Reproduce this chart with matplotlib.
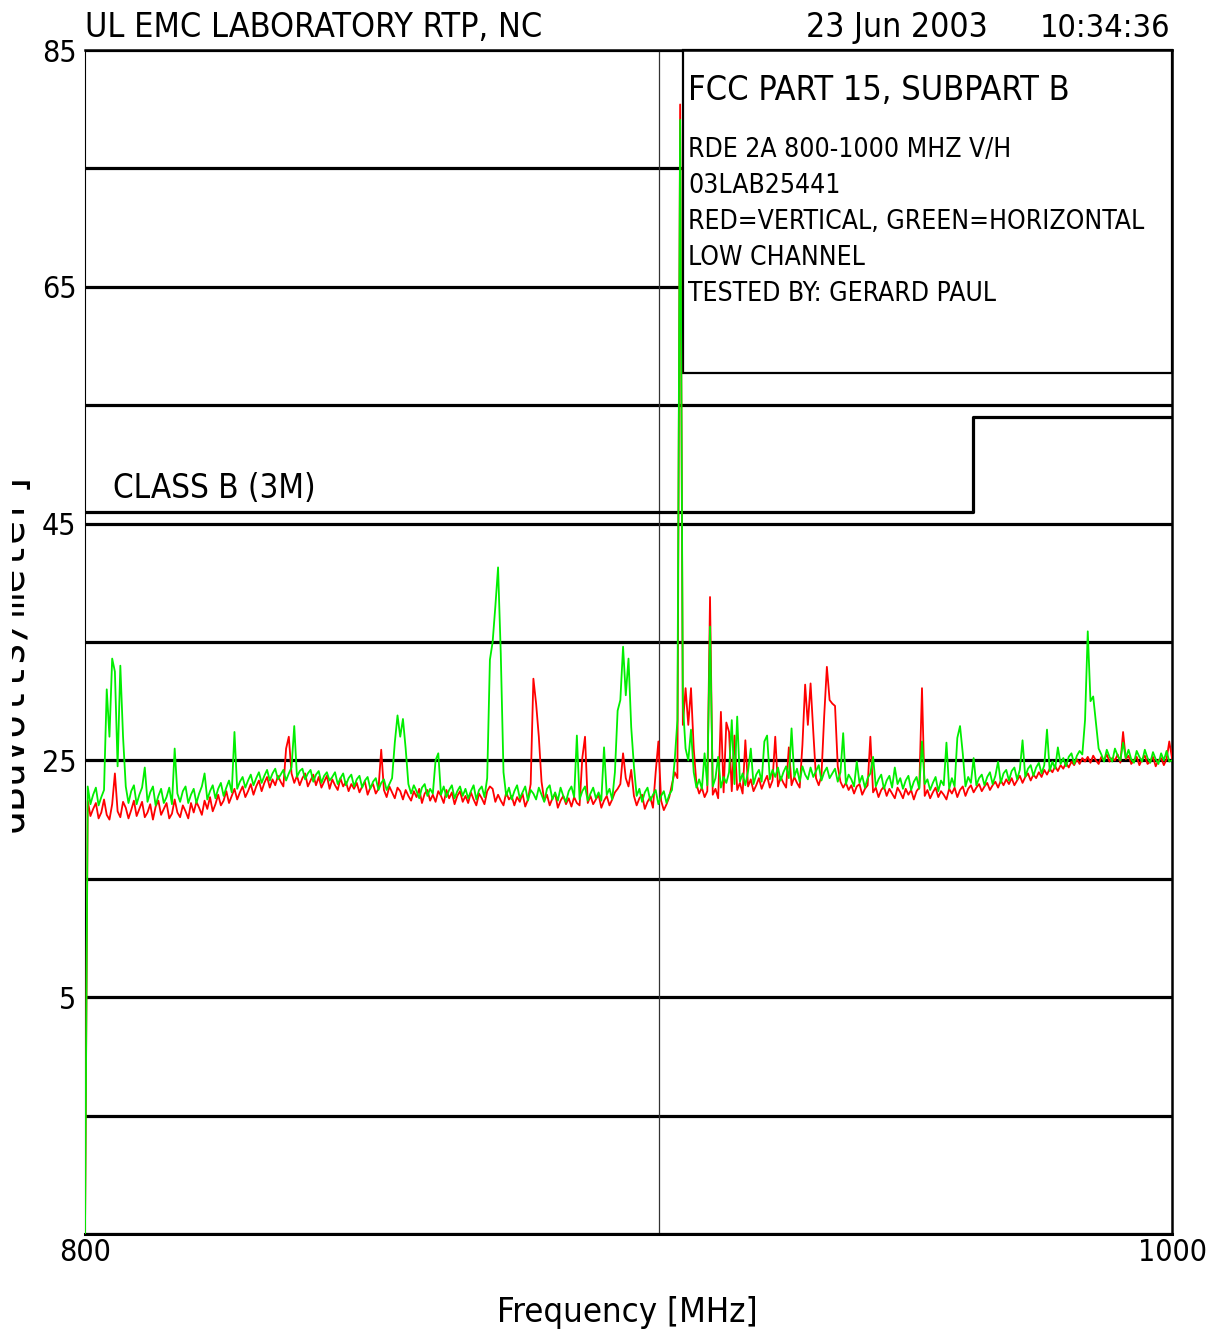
import matplotlib
matplotlib.use("Agg")
import matplotlib.pyplot as plt
import numpy as np
from matplotlib import font_manager as fm
from matplotlib.patches import Rectangle
from matplotlib.transforms import Bbox

W, H, DPI = 1214, 1338, 100

# ---- measurement sweep: 800-1000 MHz, 0.5 MHz bins (dBuV/m) ----
freq_start_mhz = 800.0
freq_step_mhz = 0.5

vertical_dbuv = [
    # 800-809.5
    -15.0, 21.6, 20.3, 20.9, 21.4, 20.1, 20.6, 21.7, 20.4, 20.0, 21.3, 23.9, 20.7, 20.2, 21.5, 21.0, 20.1, 20.8, 21.6, 20.3,
    # 810
    20.9, 21.5, 20.2, 20.6, 21.3, 20.0, 21.1, 21.6, 20.4, 20.9, 21.4, 20.1, 20.5, 21.7, 20.6, 20.2, 21.2, 20.7, 20.1, 21.4,
    # 820
    20.6, 21.5, 21.0, 20.4, 21.6, 20.9, 21.9, 20.7, 21.3, 22.1, 21.2, 21.6, 22.4, 21.4, 22.0, 22.6, 21.7, 22.3, 22.8, 21.9,
    # 830
    22.4, 23.0, 22.1, 22.8, 23.3, 22.4, 23.1, 23.6, 22.7, 23.4, 22.9, 23.7, 23.2, 22.8, 26.0, 27.0, 23.9, 23.1, 23.7, 22.9,
    # 840
    23.5, 23.9, 22.8, 23.3, 23.8, 22.9, 23.6, 22.7, 23.2, 23.7, 22.6, 23.4, 22.9, 22.5, 23.5, 22.8, 23.2, 22.4, 23.0, 22.6,
    # 850
    23.1, 22.3, 22.8, 23.2, 22.1, 22.7, 23.0, 22.2, 22.6, 25.9, 22.5, 21.9, 22.8, 22.3, 21.8, 22.7, 22.4, 21.7, 22.5, 22.0,
    # 860
    21.6, 22.4, 21.9, 22.6, 21.4, 22.2, 22.5, 21.6, 22.1, 21.5, 22.4, 22.0, 21.4, 22.5, 21.8, 22.3, 21.3, 22.0, 22.4, 21.5,
    # 870
    22.0, 21.4, 22.3, 21.7, 21.2, 22.2, 21.8, 21.3, 22.4, 22.8, 22.6, 21.5, 22.1, 21.6, 21.2, 22.3, 21.7, 22.0, 21.2, 21.9,
    # 880
    21.5, 22.2, 21.1, 21.7, 23.0, 31.9, 29.8, 27.0, 23.2, 21.6, 22.1, 21.2, 21.8, 22.2, 21.0, 21.6, 22.0, 21.3, 21.8, 21.1,
    # 890
    21.9, 21.4, 21.2, 25.2, 27.0, 21.4, 22.0, 21.3, 21.7, 22.1, 21.0, 21.6, 22.0, 21.2, 21.7, 22.3, 22.6, 23.0, 25.6, 23.5,
    # 900
    22.8, 24.2, 22.0, 21.2, 21.8, 22.1, 20.9, 21.5, 21.9, 21.0, 24.0, 26.6, 21.6, 20.8, 21.3, 21.9, 23.0, 24.0, 23.5, 80.4,
    # 910
    28.0, 31.1, 28.0, 31.1, 26.0, 23.0, 22.2, 22.7, 21.9, 22.4, 38.8, 22.1, 22.6, 21.8, 29.1, 22.3, 28.2, 27.4, 22.4, 27.1,
    # 920
    22.5, 23.1, 22.2, 26.7, 22.8, 23.4, 22.4, 22.9, 23.5, 22.6, 23.2, 23.7, 22.7, 23.3, 27.0, 22.8, 23.6, 23.1, 22.7, 26.1,
    # 930
    22.9, 23.6, 23.1, 22.7, 26.3, 31.4, 28.0, 31.5, 27.4, 23.5, 22.9, 23.7, 28.7, 32.9, 30.1, 29.8, 29.6, 24.5, 23.2, 22.7,
    # 940
    23.1, 22.5, 22.9, 22.2, 22.8, 23.0, 22.1, 22.6, 22.9, 27.0, 22.3, 22.7, 21.9, 22.5, 22.8, 22.0, 22.6, 22.2, 21.8, 22.7,
    # 950
    22.3, 21.8, 22.6, 22.1, 22.5, 21.7, 22.4, 22.7, 31.1, 22.0, 22.5, 21.8, 22.3, 22.7, 21.9, 22.4, 22.1, 21.7, 22.6, 22.2,
    # 960
    22.7, 21.9, 22.5, 22.8, 22.0, 22.6, 22.9, 22.3, 22.7, 23.0, 22.4, 22.8, 23.1, 22.5, 22.9, 23.2, 22.7, 23.3, 22.9, 23.4,
    # 970
    23.0, 23.5, 22.9, 23.3, 23.7, 23.1, 23.6, 23.9, 23.3, 23.8, 23.5, 24.0, 23.6, 24.2, 23.8, 24.3, 24.0, 24.5, 24.1, 24.6,
    # 980
    24.3, 24.8, 24.4, 24.9, 24.6, 25.1, 24.7, 25.2, 24.9, 25.3, 24.8, 25.4, 25.0, 24.7, 25.3, 25.0, 25.5, 24.9, 25.2, 25.0,
    # 990
    25.5, 24.8, 27.4, 25.1, 25.4, 24.7, 25.0, 25.3, 24.6, 25.1, 25.4, 24.7, 24.9, 25.3, 24.5, 25.0, 25.2, 24.6, 25.1, 26.6,
    # 1000
    25.2,
]

horizontal_dbuv = [
    # 800-809.5
    -15.0, 22.8, 21.3, 22.1, 22.7, 21.2, 21.9, 22.5, 31.0, 27.0, 33.6, 32.5, 24.5, 33.0, 27.0, 22.8, 21.4, 22.4, 22.9, 21.3,
    # 810
    22.1, 22.7, 24.4, 21.5, 22.3, 22.8, 21.2, 22.0, 22.6, 21.4, 21.9, 22.7, 21.3, 26.0, 22.2, 21.5, 22.4, 22.8, 21.4, 22.1,
    # 820
    22.6, 21.4, 22.2, 22.8, 23.9, 21.7, 22.4, 22.9, 21.8, 22.6, 23.1, 22.0, 22.7, 23.3, 22.3, 27.4, 22.6, 23.2, 23.6, 22.7,
    # 830
    23.3, 23.8, 22.9, 23.5, 24.0, 23.1, 23.7, 24.2, 23.3, 23.9, 24.3, 23.4, 23.8, 24.2, 23.3, 23.9, 24.4, 27.9, 23.6, 24.1,
    # 840
    24.3, 23.4, 23.9, 24.2, 23.2, 23.8, 24.1, 23.1, 23.7, 24.0, 23.3, 23.6, 24.0, 23.0, 23.5, 23.9, 22.9, 23.5, 23.8, 22.8,
    # 850
    23.4, 23.7, 22.7, 23.3, 23.6, 22.6, 23.2, 23.5, 22.5, 23.1, 23.4, 22.5, 23.0, 23.5, 26.5, 28.8, 27.0, 28.5, 26.0, 23.0,
    # 860
    22.2, 22.9, 22.4, 21.8, 22.7, 23.0, 22.0, 22.6, 22.2, 25.0, 25.6, 22.1, 22.8, 21.9, 22.5, 22.9, 21.8, 22.4, 22.8, 22.0,
    # 870
    22.6, 21.8, 22.4, 22.9, 21.7, 22.5, 22.8, 21.9, 23.5, 33.5, 35.0, 38.0, 41.3, 34.0, 24.0, 22.0, 22.7, 21.7, 22.4, 22.9,
    # 880
    21.8, 22.3, 22.8, 21.6, 22.5, 22.2, 21.7, 22.7, 22.1, 21.5, 22.6, 22.9, 21.7, 22.3, 21.6, 22.7, 22.0, 21.5, 22.4, 22.8,
    # 890
    21.9, 27.1, 21.7, 22.4, 22.8, 21.6, 22.2, 22.7, 21.8, 22.3, 21.6, 26.1, 22.1, 22.6, 21.7, 24.0, 29.2, 30.1, 34.6, 30.5,
    # 900
    33.6, 27.8, 24.5, 22.0, 22.6, 21.5, 22.3, 22.7, 21.6, 22.1, 22.5, 21.3, 22.0, 22.4, 21.4, 22.1, 22.5, 25.0, 28.4, 79.1,
    # 910
    29.8, 26.0, 25.0, 27.6, 24.0, 22.7, 23.4, 22.6, 25.6, 22.9, 36.3, 22.8, 23.5, 25.3, 22.7, 23.6, 23.1, 24.0, 28.4, 23.0,
    # 920
    28.7, 23.2, 23.9, 22.9, 24.1, 26.0, 23.0, 23.8, 24.2, 23.2, 26.6, 27.1, 23.4, 24.2, 23.6, 24.4, 23.3, 24.0, 24.5, 23.5,
    # 930
    27.7, 23.6, 24.3, 23.2, 24.5, 23.8, 23.4, 24.4, 23.6, 24.1, 24.6, 23.3, 24.0, 24.4, 23.5, 23.9, 24.3, 23.2, 24.0, 27.3,
    # 940
    23.0, 23.8, 23.4, 22.8, 24.9, 23.1, 23.7, 22.7, 23.5, 23.9, 25.3, 22.8, 23.4, 23.8, 22.6, 23.3, 23.7, 22.7, 24.4, 23.0,
    # 950
    23.5, 22.6, 23.3, 23.7, 22.5, 23.2, 23.6, 22.6, 26.6, 23.0, 23.4, 22.5, 23.1, 23.6, 22.4, 23.3, 22.9, 26.5, 22.6, 23.5,
    # 960
    22.8, 26.9, 27.9, 25.6, 22.8, 23.6, 23.1, 25.2, 22.9, 23.5, 23.8, 22.9, 23.6, 24.0, 23.0, 23.7, 24.9, 23.1, 23.9, 24.2,
    # 970
    23.3, 24.1, 24.4, 23.4, 24.2, 26.7, 23.6, 24.3, 24.6, 23.7, 24.4, 24.8, 23.9, 24.6, 27.6, 24.1, 24.9, 24.3, 26.1, 24.7,
    # 980
    25.2, 24.5, 25.3, 25.6, 24.7, 25.4, 25.8, 25.5, 28.4, 35.9, 30.0, 30.4, 28.2, 26.0, 25.5, 24.9, 25.9, 25.3, 24.9, 26.0,
    # 990
    25.4, 25.0, 26.5, 25.2, 25.9, 25.1, 24.8, 25.8, 25.3, 24.9, 25.9, 25.2, 24.8, 25.7, 25.1, 24.7, 25.6, 25.0, 25.8, 24.9,
    # 1000
    25.0,
]

assert len(vertical_dbuv) == 401 and len(horizontal_dbuv) == 401

# FCC Class B (3 m) limit line
limit_freqs = [800.0, 963.3, 963.3, 1000.0]
limit_levels = [46.0, 46.0, 54.0, 54.0]

# marker position and annotation panel extent
marker_freq = 905.6
panel_freq = 910.0
panel_bottom = 57.7

grid_levels = [-15, -5, 5, 15, 25, 35, 45, 55, 65, 75, 85]
labelled_levels = [85, 65, 45, 25, 5]
x_ticks = [800, 1000]
x_tick_labels = ["800", "1000"]

header_left = "UL EMC LABORATORY RTP, NC"
header_date = "23 Jun 2003"
header_time = "10:34:36"
panel_title = "FCC PART 15, SUBPART B"
panel_lines = [
    "RDE 2A 800-1000 MHZ V/H",
    "03LAB25441",
    "RED=VERTICAL, GREEN=HORIZONTAL",
    "LOW CHANNEL",
    "TESTED BY: GERARD PAUL",
]
limit_label = "CLASS B (3M)"
x_label = "Frequency [MHz]"
y_label = "dBuVolts/meter]"


def pick_font():
    """Prefer a narrow upright face; fall back to a monospace one."""
    for f in fm.fontManager.ttflist:
        name = f.name.lower()
        stretch = str(f.stretch).lower()
        narrow = ("narrow" in name or "condensed" in name or "condensed" in stretch)
        if narrow and f.style == "normal" and str(f.weight) in ("400", "normal", "regular", "book"):
            if any(k in name for k in ("dejavu sans", "liberation sans", "noto sans", "open sans", "roboto")):
                if "mono" not in name:
                    return fm.FontProperties(fname=f.fname)
    return fm.FontProperties(family=["DejaVu Sans Mono", "DejaVu Sans"])


FP = pick_font()


def px(x, y):
    """Pixel position measured from the top-left corner -> figure fraction."""
    return x / W, 1.0 - y / H


fig = plt.figure(figsize=(W / DPI, H / DPI), dpi=DPI, facecolor="white")
renderer = fig.canvas.get_renderer()


def fitted_size(s, width_px, cap_px, widen=1.1):
    """Font size (pt) giving roughly the requested width, limited by a cap height."""
    probe = fig.text(0, 0, s, fontproperties=FP)
    probe.set_fontsize(20)
    w = probe.get_window_extent(renderer).width
    probe.remove()
    size = 20 * widen * width_px / w
    return min(size, cap_px / 0.73 * 72 / DPI)


def put(x, y, s, size, ha="left"):
    t = fig.text(*px(x, y), s, fontproperties=FP, ha=ha, va="baseline")
    t.set_fontsize(size)
    return t


ax_left, ax_top, ax_right, ax_bottom = 85, 50, 1172, 1234
ax = fig.add_axes([ax_left / W, 1 - ax_bottom / H,
                   (ax_right - ax_left) / W, (ax_bottom - ax_top) / H])
ax.set_xlim(800, 1000)
ax.set_ylim(-15, 85)

tick_size = fitted_size("800", 52, 28, widen=1.0)

# horizontal grid every 10 dB
ax.set_yticks(grid_levels)
ax.set_yticklabels([str(v) if v in labelled_levels else "" for v in grid_levels])
ax.grid(axis="y", color="black", linewidth=2.3)
ax.set_xticks(x_ticks)
ax.set_xticklabels(x_tick_labels)
for lab in ax.get_xticklabels() + ax.get_yticklabels():
    lab.set_fontproperties(FP)
    lab.set_fontsize(tick_size)
ax.tick_params(axis="both", length=0, colors="black")
ax.tick_params(axis="y", pad=6)
ax.tick_params(axis="x", pad=3)

for side, lw in (("left", 0.8), ("right", 1.8), ("top", 1.8), ("bottom", 2.2)):
    ax.spines[side].set_linewidth(lw)
    ax.spines[side].set_color("black")

# marker line
ax.axvline(marker_freq, color="#333333", linewidth=0.9, zorder=1.8)

# limit line
ax.plot(limit_freqs, limit_levels, color="black", linewidth=2.3, zorder=2.2)

# traces
freqs_v = freq_start_mhz + freq_step_mhz * np.arange(len(vertical_dbuv))
freqs_h = freq_start_mhz + freq_step_mhz * np.arange(len(horizontal_dbuv))
ax.plot(freqs_v, vertical_dbuv, color="#ff0000", linewidth=1.3, zorder=3)
ax.plot(freqs_h, horizontal_dbuv, color="#00ee00", linewidth=1.3, zorder=4)

# annotation panel (covers the grid in the upper right)
ax.add_patch(Rectangle((panel_freq, panel_bottom), 1000 - panel_freq, 85 - panel_bottom,
                       facecolor="white", edgecolor="black", linewidth=1.6,
                       zorder=2.5, clip_on=False))

put(688, 100, panel_title, fitted_size(panel_title, 347, 28))
body_size = fitted_size(panel_lines[2], 415, 26)
for i, line in enumerate(panel_lines):
    put(688, 157 + 36 * i, line, body_size)

put(113, 498, limit_label, fitted_size(limit_label, 184, 26))

# header
put(85, 37, header_left, fitted_size(header_left, 415, 29))
put(806, 37, header_date, fitted_size(header_date, 181, 29, widen=1.0))
put(1170, 37, header_time, fitted_size(header_time, 130, 29, widen=1.0), ha="right")

# axis titles
put(627, 1322, x_label, fitted_size(x_label, 237, 30), ha="center")
ylab = fig.text(*px(23, 650), y_label, fontsize=29, rotation=90,
                rotation_mode="anchor", ha="center", va="baseline",
                family=["DejaVu Sans Mono", "DejaVu Sans"])
ylab.set_clip_box(Bbox([[12, 0], [W, H]]))
ylab.set_clip_on(True)

fig.savefig("out.png", dpi=DPI, facecolor="white")
